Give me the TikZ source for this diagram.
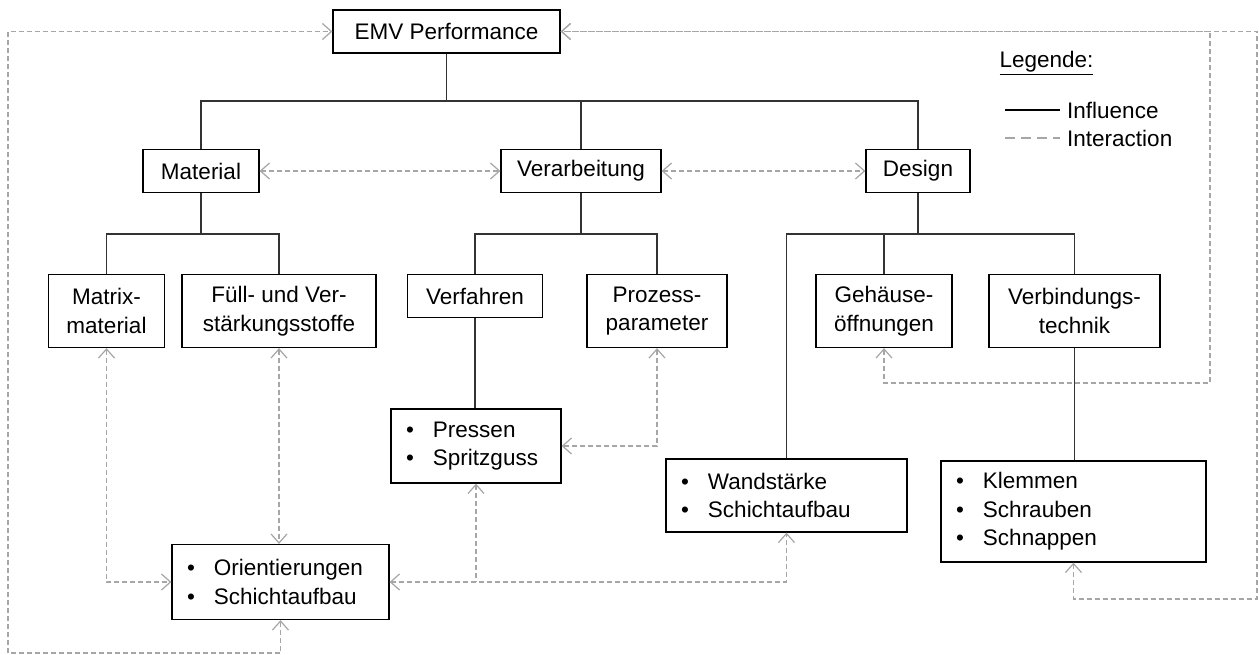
\documentclass[tikz,border=0pt]{standalone}
\usepackage{fontspec}
\setmainfont{Liberation Sans}
\usetikzlibrary{arrows.meta}
\newcommand{\itm}{\makebox[27pt][l]{\textbullet}}

\begin{document}
\begin{tikzpicture}[x=1pt, y=-1pt,
  font=\fontsize{22.5}{28.5}\selectfont,
  >={Straight Barb[length=9pt,width=16pt]},
  box/.style={draw=black, line width=1.3pt, inner xsep=15pt, inner ysep=3pt, minimum height=43pt, align=center},
  two/.style={box, minimum height=73pt},
  lst/.style={box, align=left, text width=#1},
  infl/.style={draw=black!80, line width=1.8pt},
  inter/.style={draw=black!35, line width=1.2pt, dash pattern=on 5pt off 3pt, <->}]
\useasboundingbox (0,0) rectangle (1259,655);

\node[box, minimum width=227pt] (emv) at (446.5,31.5) {EMV Performance};
\node[box, minimum width=116pt] (mat) at (201,171) {Material};
\node[box, minimum width=160pt] (verarb) at (581,171) {Verarbeitung};
\node[box, minimum width=104pt] (design) at (918,171) {Design};
\node[two, minimum width=116pt] (matrix) at (106.5,311) {Matrix-\\material};
\node[two, minimum width=194pt] (fuell) at (279,311) {Füll- und Ver-\\stärkungsstoffe};
\node[box, minimum width=135pt] (verf) at (475,296) {Verfahren};
\node[two, minimum width=140pt] (proz) at (657,311) {Prozess-\\parameter};
\node[two, minimum width=136pt] (geh) at (884,311) {Gehäuse-\\öffnungen};
\node[two, minimum width=171pt] (verb) at (1074.5,311) {Verbindungs-\\technik};
\node[lst=140pt, minimum height=74pt] (press) at (476,446) {\itm Pressen\\\itm Spritzguss};
\node[lst=211pt, minimum height=73pt] (wand) at (786.5,495.5) {\itm Wandstärke\\\itm Schichtaufbau};
\node[lst=235pt, minimum height=101pt] (klem) at (1073.5,511.5) {\itm Klemmen\\\itm Schrauben\\\itm Schnappen};
\node[lst=187pt, minimum height=75pt] (orient) at (280.5,582) {\itm Orientierungen\\\itm Schichtaufbau};

\node[anchor=west] (leg) at (996,63) {\underline{Legende:}};
\node[anchor=west, inner xsep=7pt] (linf) at (1060,110) {Influence};
\node[anchor=west, inner xsep=7pt] (lint) at (1060,138) {Interaction};
\coordinate (kinf) at (1005,110);
\coordinate (kint) at (1005,138);
\coordinate (ul) at (8,653);
\coordinate (ur) at (1257,599);
\coordinate (gr) at (1210,383);

\draw[infl] (emv.south) -- ++(0,47) -| (mat.north);
\draw[infl] (emv.south) -- ++(0,47) -| (verarb.north);
\draw[infl] (emv.south) -- ++(0,47) -| (design.north);
\draw[infl] (mat.south) -- ++(0,41) -| (matrix.north);
\draw[infl] (mat.south) -- ++(0,41) -| (fuell.north);
\draw[infl] (verarb.south) -- ++(0,41) -| (verf.north);
\draw[infl] (verarb.south) -- ++(0,41) -| (proz.north);
\draw[infl] (design.south) -- ++(0,41) -| (wand.north);
\draw[infl] (design.south) -- ++(0,41) -| (geh.north);
\draw[infl] (design.south) -- ++(0,41) -| (verb.north);
\draw[infl] (verf.south) -- (verf.south |- press.north);
\draw[infl] (verb.south) -- (verb.south |- klem.north);

\draw[inter] (mat.east) -- (verarb.west);
\draw[inter] (verarb.east) -- (design.west);
\draw[inter] (orient.south) |- (ul) |- (emv.west);
\draw[inter] (klem.south) |- (ur) |- (emv.east);
\draw[inter] (geh.south) |- (gr) |- (emv.east);
\draw[inter] (matrix.south) |- (orient.west);
\draw[inter] (fuell.south) -- (fuell.south |- orient.north);
\draw[inter] (orient.east) -| (wand.south);
\draw[inter, <-] (press.south) -- (press.south |- orient.east);
\draw[inter] (proz.south) |- (press.east);

\draw[infl, draw=black, line width=2.4pt] (kinf) -- (linf.west);
\draw[inter, -, line width=1.6pt, dash pattern=on 10pt off 6pt] (kint) -- (lint.west);
\end{tikzpicture}
\end{document}
